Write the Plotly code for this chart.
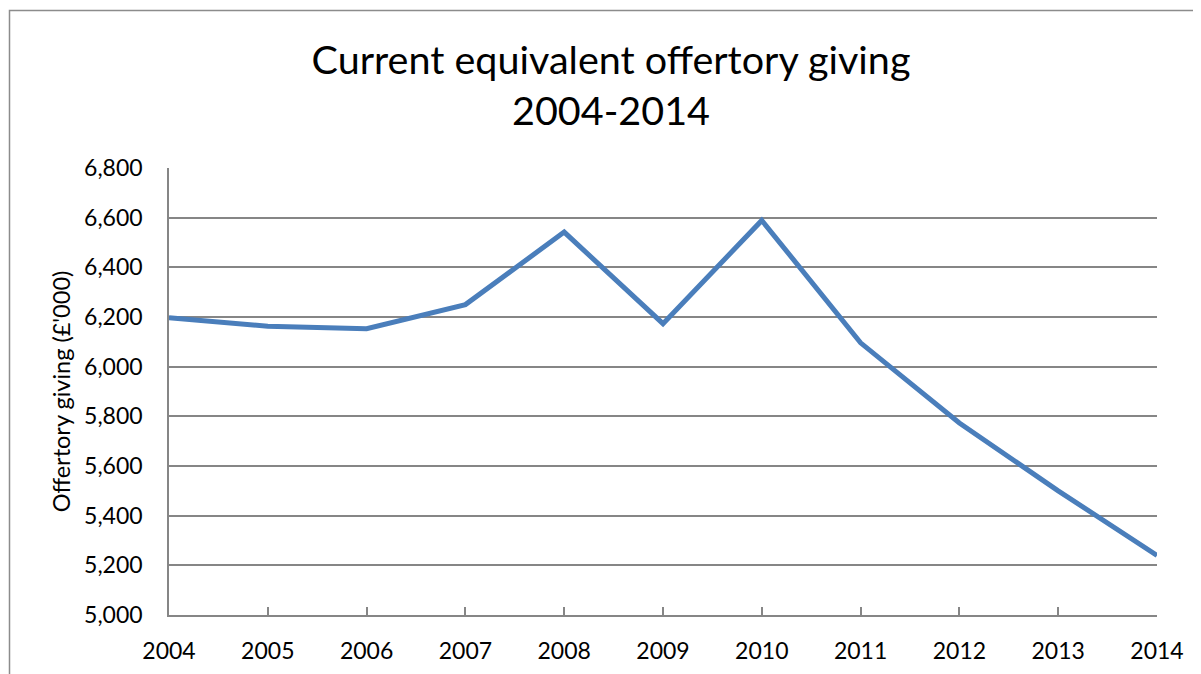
import plotly.graph_objects as go

years = ["2004", "2005", "2006", "2007", "2008", "2009", "2010", "2011", "2012", "2013", "2014"]
giving = [6197, 6163, 6153, 6250, 6542, 6173, 6589, 6096, 5773, 5500, 5240]
y_ticks = [5000, 5200, 5400, 5600, 5800, 6000, 6200, 6400, 6600, 6800]

# page is rendered with an 8px body margin
OFF = 8
W, H = 1201, 674
PL, PR, PT, PB = 169, 1157, 168, 615   # plot area in page pixels
L, T = PL - OFF, PT - OFF
pw, ph = PR - PL, PB - PT
R, B = W - L - pw, H - T - ph

fig = go.Figure()
fig.add_trace(go.Scatter(
    x=list(range(len(years))), y=giving, mode="lines",
    line=dict(color="#4A7EBB", width=5), hoverinfo="x+y",
))

font_family = "Lato, 'Open Sans', sans-serif"

fig.update_layout(
    width=W, height=H,
    margin=dict(l=L, r=R, t=T, b=B),
    paper_bgcolor="white", plot_bgcolor="white",
    showlegend=False,
    font=dict(family=font_family, color="black"),
    title=dict(
        text="Current equivalent offertory giving<br>2004-2014",
        x=(611 - OFF) / W, xref="container", xanchor="center",
        y=1 - (74 - OFF) / H, yref="container", yanchor="middle",
        font=dict(size=39.5, family=font_family, color="black"),
    ),
    xaxis=dict(
        range=[0, len(years) - 1],
        tickmode="array", tickvals=list(range(len(years))), ticktext=years,
        showgrid=False, zeroline=False,
        showline=True, linecolor="#868686", linewidth=1.5,
        ticks="inside", ticklen=8, tickcolor="#868686", tickwidth=1.5,
        tickfont=dict(size=23, family=font_family, color="black"),
        ticklabelstandoff=15,
    ),
    yaxis=dict(
        range=[y_ticks[0], y_ticks[-1]],
        tickmode="array", tickvals=y_ticks,
        ticktext=[f"{v:,}" for v in y_ticks],
        showgrid=True, gridcolor="#868686", gridwidth=1.5,
        zeroline=False,
        showline=True, linecolor="#868686", linewidth=1.5,
        ticks="",
        tickfont=dict(size=23, family=font_family, color="black"),
        ticklabelstandoff=20,
        title=dict(text="Offertory giving (£'000)", standoff=7,
                   font=dict(size=23.5, family=font_family, color="black")),
    ),
    shapes=[dict(
        type="rect", xref="paper", yref="paper",
        x0=(9.5 - PL) / pw, x1=(1210 - PL) / pw,
        y0=-(690 - PB) / ph, y1=1 + (PT - 10.5) / ph,
        line=dict(color="#8C8C8C", width=1.5), fillcolor="rgba(0,0,0,0)",
        layer="below",
    )],
)

fig.write_html("out.html")
